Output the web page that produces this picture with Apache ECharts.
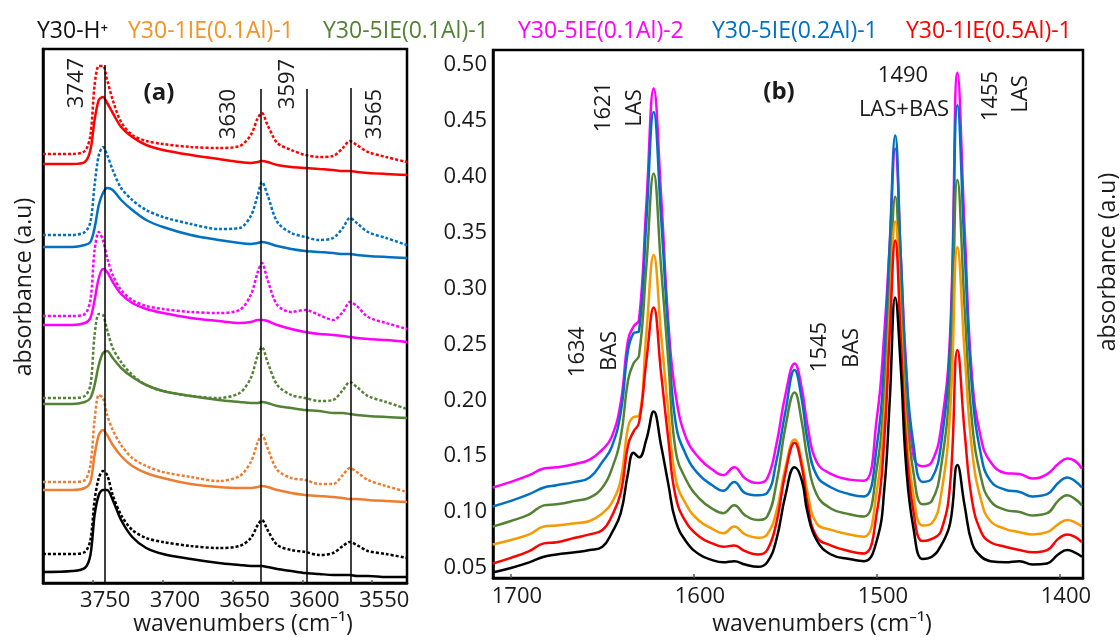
<!DOCTYPE html>
<html>
<head>
<meta charset="utf-8">
<script src="https://cdn.jsdelivr.net/npm/echarts/dist/echarts.min.js"></script>
<style>
html,body{margin:0;padding:0;background:#fff;}
#chart{width:1120px;height:637px;}
</style>
</head>
<body>
<div id="chart"></div>
<script>
// ---------- Panel (a): OH region, arbitrary absorbance units ----------
const wnA = [3786, 3765, 3756, 3752, 3749, 3746, 3743, 3740, 3736, 3730, 3722, 3712, 3700, 3680, 3660, 3645, 3637, 3632, 3629, 3625, 3618, 3608, 3598, 3588, 3578, 3571, 3566, 3561, 3553, 3540, 3525];
const aRedSolid = [84.2,84.2,84.6,87,93,97,97.6,96.4,94.4,91.6,89.6,88,87,86,85.2,84.6,84.4,84.6,84.8,84.6,84,83.6,83.4,83.2,83,82.8,82.8,82.6,82.4,82.2,82];
const aRedDot = [86.2,86.2,86.8,90,100,103.8,103.8,101,97,92.6,90,88.8,88.2,87.6,87.4,87.8,90,93.4,94.4,92,88.4,87,86,85.6,85.8,87.4,88.8,88,86.6,85.6,84.6];
const aBlueSolid = [67.6,67.6,68,68.6,71.4,76,78.4,79.4,79,77,75,73,71.6,70,69,68.4,68.2,68.4,68.6,68.4,67.8,67.2,66.8,66.6,66.4,66.2,66.2,66,65.8,65.6,65.4];
const aBlueDot = [70,70,70.6,72.6,80,86,87.6,86,83,79.4,77,75,73.6,72.2,71.2,71.4,73.8,78,80.6,78,72.6,70.4,69.6,69,69.4,71.4,73.4,72.4,70.6,69.4,68];
const aMagentaSolid = [52,52,52.4,53.4,57,61.4,63.2,62.6,60.6,58.2,56.4,55.2,54.4,53.4,52.8,52.4,52.6,53,53,52.8,52,51.2,50.6,50.2,50,49.8,49.6,49.4,49.2,49,48.6];
const aMagentaDot = [53.8,53.8,54.2,57,67,70.6,69,65.4,62,59,57,55.8,55.2,54.6,54.4,55,58,62.6,64.4,61,56,54.6,55,54,53,54.6,56.6,55.8,53.6,52.4,51.2];
const aGreenSolid = [36.2,36.2,36.6,37.4,40,44,46.4,46.8,45.4,43.4,41.6,40,38.8,37.8,37,36.6,36.4,36.4,36.6,36.4,35.8,35.4,35,34.8,34.4,34.4,34.2,34,33.8,33.6,33.4];
const aGreenDot = [37.4,37.4,37.8,40,50,54.2,54,51,47.4,44.6,42,40,38.8,37.8,37.4,38.4,41.4,46,47.6,44.6,40,38,37.4,36.8,37,39,40.6,39.6,37.8,36.6,35.2];
const aOrangeSolid = [19,19,19.4,20.6,26,30,31,30,28,25.8,23.8,22.4,21.4,20.2,19.6,19.4,19.4,19.6,19.8,19.6,19,18.4,18,17.8,17.6,17.4,17.2,17.2,17,16.8,16.6];
const aOrangeDot = [20.6,20.6,21,24,33,38,37.4,34,31,28,25.4,23.8,22.6,21.6,20.8,21.8,24.6,28.6,30,27.4,23,21.4,21,20.2,20.2,22,23.4,22.6,21,19.8,18.6];
const aBlackSolid = [2.6,2.8,3.4,6,14,18,19,19,17,13,9.6,7.4,6.2,5.2,4.4,4,3.8,3.8,3.8,3.6,3.2,2.8,2.4,2.2,2,2,2,1.8,1.8,1.6,1.6];
const aBlackDot = [6.2,6.2,6.6,9,17,21.4,22.8,22,18,14,11,9.4,8.6,7.8,7.4,7.8,9.4,12,13,11,8,7,6.6,6,6.4,7.8,8.6,8,6.8,6.2,5.4];
const markA = [3742, 3630, 3597, 3565];
const markATop = [104, 99.2, 99.2, 99.4];
const markALabels = ['3747', '3630', '3597', '3565'];

// ---------- Panel (b): pyridine region ----------
const wnB = [1710,1700,1690,1682,1675,1665,1657,1650,1645,1640,1636,1633,1630,1626,1622,1618,1614,1610,1604,1597,1590,1584,1578,1572,1565,1560,1555,1550,1545,1541,1538,1533,1525,1515,1507,1500,1496,1493,1490,1487,1484,1480,1475,1470,1465,1460,1456,1452,1448,1443,1438,1430,1422,1415,1407,1401,1396,1392,1388];
const bMagenta = [0.122,0.127,0.133,0.139,0.140,0.143,0.147,0.156,0.167,0.198,0.254,0.266,0.272,0.375,0.479,0.385,0.270,0.205,0.165,0.148,0.138,0.133,0.140,0.130,0.126,0.130,0.160,0.205,0.233,0.210,0.178,0.145,0.134,0.129,0.128,0.185,0.26,0.34,0.425,0.33,0.23,0.150,0.141,0.145,0.175,0.26,0.493,0.35,0.22,0.165,0.145,0.135,0.134,0.130,0.134,0.143,0.148,0.146,0.139];
const bBlue = [0.105,0.110,0.116,0.122,0.124,0.127,0.131,0.145,0.158,0.189,0.245,0.260,0.262,0.36,0.458,0.365,0.26,0.180,0.150,0.133,0.124,0.119,0.127,0.117,0.115,0.117,0.145,0.190,0.227,0.200,0.165,0.133,0.122,0.116,0.114,0.16,0.235,0.34,0.437,0.33,0.225,0.16,0.127,0.130,0.16,0.25,0.464,0.33,0.21,0.15,0.128,0.120,0.118,0.114,0.116,0.126,0.131,0.128,0.122];
const bGreen = [0.087,0.092,0.098,0.106,0.107,0.110,0.113,0.122,0.138,0.167,0.218,0.233,0.240,0.32,0.403,0.32,0.235,0.155,0.128,0.112,0.103,0.099,0.106,0.097,0.093,0.096,0.125,0.176,0.207,0.180,0.148,0.116,0.103,0.098,0.096,0.14,0.205,0.30,0.382,0.29,0.195,0.135,0.107,0.110,0.14,0.22,0.397,0.28,0.18,0.130,0.110,0.102,0.100,0.097,0.099,0.110,0.115,0.112,0.106];
const bOrange = [0.071,0.075,0.080,0.087,0.088,0.090,0.092,0.099,0.108,0.129,0.176,0.185,0.186,0.26,0.330,0.26,0.19,0.130,0.106,0.092,0.085,0.081,0.087,0.080,0.077,0.080,0.100,0.140,0.165,0.145,0.118,0.090,0.084,0.080,0.078,0.12,0.185,0.28,0.36,0.27,0.175,0.115,0.088,0.090,0.115,0.19,0.337,0.24,0.155,0.110,0.092,0.085,0.082,0.080,0.082,0.089,0.093,0.091,0.087];
const bRed = [0.054,0.059,0.065,0.072,0.073,0.077,0.080,0.084,0.096,0.117,0.160,0.172,0.180,0.235,0.283,0.225,0.165,0.114,0.090,0.078,0.072,0.069,0.070,0.065,0.062,0.066,0.090,0.135,0.162,0.140,0.108,0.078,0.070,0.065,0.063,0.10,0.165,0.26,0.343,0.255,0.16,0.100,0.074,0.076,0.083,0.125,0.245,0.17,0.110,0.082,0.073,0.069,0.066,0.064,0.066,0.076,0.080,0.078,0.073];
const bBlack = [0.046,0.050,0.055,0.060,0.062,0.064,0.066,0.069,0.081,0.099,0.135,0.153,0.149,0.165,0.190,0.160,0.125,0.092,0.073,0.062,0.057,0.055,0.056,0.053,0.051,0.055,0.075,0.115,0.140,0.128,0.100,0.075,0.062,0.058,0.056,0.075,0.12,0.20,0.292,0.23,0.14,0.085,0.058,0.060,0.070,0.090,0.142,0.105,0.072,0.060,0.056,0.055,0.056,0.053,0.054,0.062,0.066,0.064,0.060];

// ---------- Texts ----------
const sampleNames = ['Y30-H\u207A', 'Y30-1IE(0.1Al)-1', 'Y30-5IE(0.1Al)-1', 'Y30-5IE(0.1Al)-2', 'Y30-5IE(0.2Al)-1', 'Y30-1IE(0.5Al)-1'];
const legendColors = ['#111111', '#F39325', '#548235', '#FF00FF', '#0070C0', '#FF0000'];
const colorsA = ['#000000', '#ED7D31', '#548235', '#FF00FF', '#0070C0', '#FF0000'];
const colorsB = ['#000000', '#F59A00', '#548235', '#FF00FF', '#0070C0', '#FF0000'];
const xTitle = 'wavenumbers (cm\u207B\u00B9)';
const yTitle = 'absorbance (a.u)';

const FONT = '"Open Sans", "Noto Sans", sans-serif';
const chart = echarts.init(document.getElementById('chart'), null, {renderer: 'canvas'});

function lineA(idx, data, dotted) {
  return {
    type: 'line', name: sampleNames[idx] + (dotted ? ' (dotted)' : ''),
    xAxisIndex: 0, yAxisIndex: 0,
    data: wnA.map((w, i) => [w, data[i]]),
    symbol: 'none', smooth: 0.3, silent: true,
    lineStyle: {color: colorsA[idx], width: 2.5, type: dotted ? [3, 2] : 'solid'}
  };
}
function lineB(idx, data) {
  return {
    type: 'line', name: sampleNames[idx] + ' (b)',
    xAxisIndex: 1, yAxisIndex: 1,
    data: wnB.map((w, i) => [w, data[i]]),
    symbol: 'none', smooth: 0.45, silent: true,
    lineStyle: {color: colorsB[idx], width: 2.5}
  };
}

const seriesA = [
  lineA(5, aRedSolid, false), lineA(5, aRedDot, true),
  lineA(4, aBlueSolid, false), lineA(4, aBlueDot, true),
  lineA(3, aMagentaSolid, false), lineA(3, aMagentaDot, true),
  lineA(2, aGreenSolid, false), lineA(2, aGreenDot, true),
  lineA(1, aOrangeSolid, false), lineA(1, aOrangeDot, true),
  lineA(0, aBlackSolid, false), lineA(0, aBlackDot, true)
];
seriesA[10].markLine = {
  silent: true, symbol: ['none', 'none'], label: {show: false},
  lineStyle: {color: '#000', width: 1.5, type: 'solid'},
  data: markA.map((v, i) => [{coord: [v, 0.4]}, {coord: [v, markATop[i]]}])
};
const seriesB = [
  lineB(3, bMagenta), lineB(4, bBlue), lineB(2, bGreen),
  lineB(1, bOrange), lineB(5, bRed), lineB(0, bBlack)
];

function txt(text, x, y, opts) {
  opts = opts || {};
  return {
    type: 'text', x: x, y: y, rotation: opts.rot ? Math.PI / 2 : 0, silent: true, z: 100,
    style: {
      text: text, fill: opts.color || '#1a1a1a',
      font: (opts.bold ? 'bold ' : '') + (opts.size || 22) + 'px ' + FONT,
      textAlign: opts.align || 'center', textVerticalAlign: 'middle', verticalAlign: 'middle'
    }
  };
}

const legendX = [37, 128, 323, 518, 712, 906];
const graphics = [];
sampleNames.forEach((n, i) => graphics.push(txt(n, legendX[i], 31, {color: legendColors[i], size: 23, align: 'left'})));
// panel (a) annotations
graphics.push(txt(markALabels[0], 77, 83, {rot: true}));
graphics.push(txt('(a)', 159, 93, {bold: true, size: 24}));
graphics.push(txt(markALabels[1], 229, 114, {rot: true}));
graphics.push(txt(markALabels[2], 288, 84, {rot: true}));
graphics.push(txt(markALabels[3], 375, 114, {rot: true}));
graphics.push(txt(xTitle, 243, 624, {size: 23}));
graphics.push(txt(yTitle, 24, 287, {rot: true, size: 23}));
// panel (b) annotations
graphics.push(txt('1621', 604, 107, {rot: true}));
graphics.push(txt('LAS', 635, 108, {rot: true}));
graphics.push(txt('(b)', 779, 92, {bold: true, size: 24}));
graphics.push(txt('1490', 903, 76));
graphics.push(txt('LAS+BAS', 904, 110));
graphics.push(txt('1455', 991, 96, {rot: true}));
graphics.push(txt('LAS', 1021, 94, {rot: true}));
graphics.push(txt('1634', 578, 352, {rot: true}));
graphics.push(txt('BAS', 610, 351, {rot: true}));
graphics.push(txt('1545', 820, 347, {rot: true}));
graphics.push(txt('BAS', 852, 348, {rot: true}));
graphics.push(txt(xTitle, 822, 624, {size: 23}));
graphics.push(txt(yTitle, 1108, 262, {rot: true, size: 23}));

const axisLineStyle = {show: true, onZero: false, lineStyle: {color: '#000', width: 2.5}};

chart.setOption({
  animation: false,
  backgroundColor: '#ffffff',
  grid: [
    {left: 43, top: 49, width: 364, height: 534, show: true, borderColor: '#000', borderWidth: 2.5, backgroundColor: 'transparent'},
    {left: 493, top: 50, width: 590, height: 528, show: true, borderColor: '#000', borderWidth: 2.5, backgroundColor: 'transparent'}
  ],
  xAxis: [
    {
      type: 'value', gridIndex: 0, min: 3525, max: 3786, inverse: true, splitNumber: 5,
      axisLine: axisLineStyle,
      axisTick: {show: true, inside: true, length: 3, lineStyle: {color: '#555', width: 1.5}},
      splitLine: {show: false},
      axisLabel: {show: true, fontSize: 22, fontFamily: FONT, color: '#1a1a1a', margin: 7,
        showMinLabel: false, showMaxLabel: false, padding: [0, 0, 0, 24], formatter: v => String(v)}
    },
    {
      type: 'value', gridIndex: 1, min: 1387.4, max: 1709.8, inverse: true, splitNumber: 3,
      axisLine: axisLineStyle,
      axisTick: {show: true, inside: true, length: 4, lineStyle: {color: '#555', width: 1.5}},
      splitLine: {show: false},
      axisLabel: {show: true, fontSize: 22, fontFamily: FONT, color: '#1a1a1a', margin: 8,
        showMinLabel: false, showMaxLabel: false, padding: [0, 0, 0, 12], formatter: v => String(v)}
    }
  ],
  yAxis: [
    {
      type: 'value', gridIndex: 0, min: 0.4, max: 107.2,
      axisLine: axisLineStyle, axisTick: {show: false}, axisLabel: {show: false}, splitLine: {show: false}
    },
    {
      type: 'value', gridIndex: 1, min: 0.041, max: 0.5134, splitNumber: 9,
      axisLine: axisLineStyle, axisTick: {show: false}, splitLine: {show: false},
      axisLabel: {show: true, fontSize: 22, fontFamily: FONT, color: '#1a1a1a', margin: 6,
        showMinLabel: false, showMaxLabel: false, formatter: v => v.toFixed(2)}
    }
  ],
  series: seriesA.concat(seriesB),
  graphic: graphics
});
</script>
</body>
</html>
